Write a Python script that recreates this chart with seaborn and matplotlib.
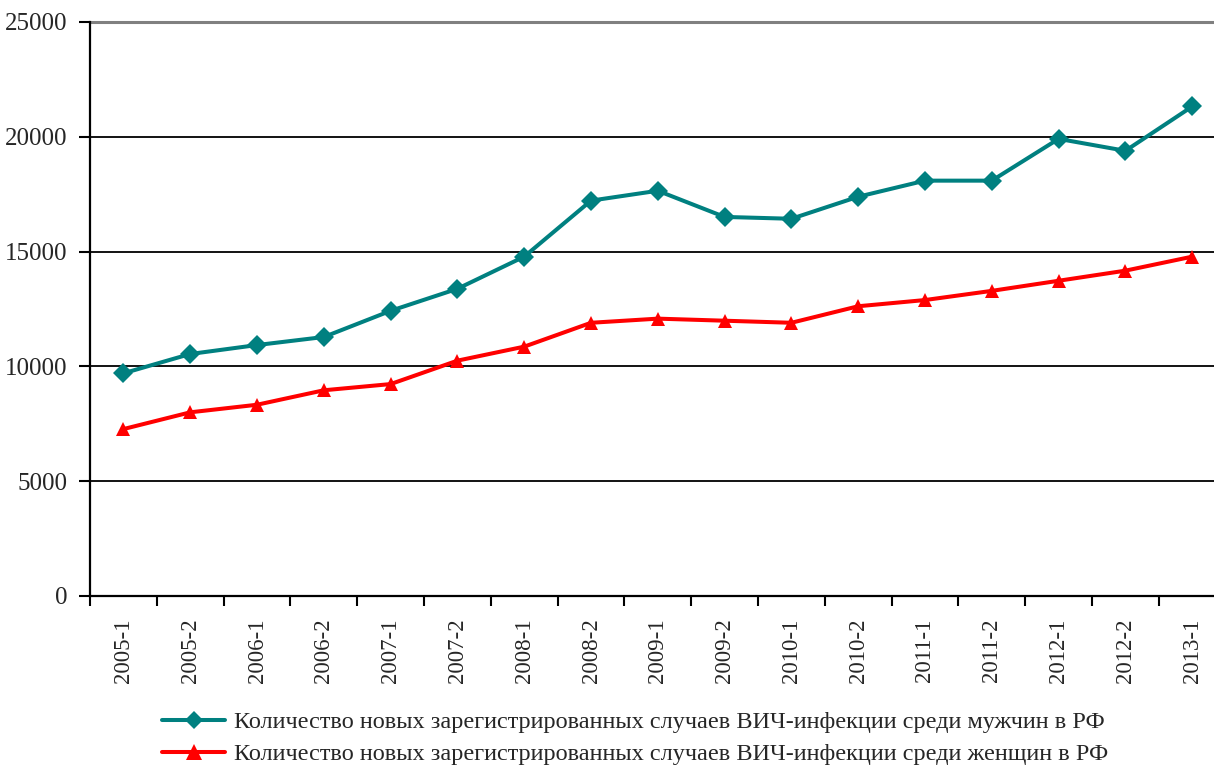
import matplotlib
matplotlib.use("Agg")
import matplotlib.pyplot as plt
import seaborn as sns
import pandas as pd
from matplotlib.ticker import FixedLocator
from matplotlib.lines import Line2D

periods = ["2005-1", "2005-2", "2006-1", "2006-2", "2007-1", "2007-2", "2008-1",
           "2008-2", "2009-1", "2009-2", "2010-1", "2010-2", "2011-1", "2011-2",
           "2012-1", "2012-2", "2013-1"]
men = [9700, 10540, 10930, 11280, 12420, 13380, 14780, 17220, 17650, 16510,
       16430, 17390, 18090, 18090, 19910, 19390, 21320]
women = [7270, 8000, 8330, 8960, 9230, 10250, 10860, 11900, 12080, 11990,
         11900, 12620, 12890, 13290, 13730, 14170, 14780]
label_men = "Количество новых зарегистрированных случаев ВИЧ-инфекции среди мужчин в РФ"
label_women = "Количество новых зарегистрированных случаев ВИЧ-инфекции среди женщин в РФ"
yticks = [0, 5000, 10000, 15000, 20000, 25000]

sns.set_theme(style="white")
plt.rcParams['font.family'] = ['Liberation Serif', 'DejaVu Serif']

df = pd.DataFrame({
    "x": list(range(len(periods))) * 2,
    "value": men + women,
    "series": [label_men] * len(men) + [label_women] * len(women),
})

fig = plt.figure(figsize=(12.14, 7.67), dpi=100)
ax = fig.add_axes([90 / 1214, (767 - 596) / 767, (1225.6 - 90) / 1214, (596 - 22) / 767])

sns.lineplot(data=df, x="x", y="value", hue="series", style="series",
             palette={label_men: "#008080", label_women: "#FF0000"},
             markers={label_men: "D", label_women: "^"},
             dashes=False, linewidth=2.9, markersize=10.5, markeredgewidth=0,
             ax=ax, legend=False)

ax.set_xlim(-0.5, len(periods) - 0.5)
ax.set_ylim(0, 25000)
ax.set_yticks(yticks)
ax.set_yticklabels([str(v) for v in yticks], fontsize=18)
for v in yticks[1:-1]:
    ax.axhline(v, color="black", linewidth=1.3, zorder=0)
ax.axhline(25000, color="#808080", linewidth=2.2, zorder=0, clip_on=False)

ax.set_xticks(range(len(periods)))
ax.set_xticklabels(periods, rotation=90, fontsize=16.5)
ax.xaxis.set_minor_locator(FixedLocator([i - 0.5 for i in range(len(periods) + 1)]))
ax.tick_params(axis="x", which="major", length=0, pad=16)
ax.tick_params(axis="x", which="minor", length=7, width=1.5, color="black", direction="out", bottom=True)
ax.tick_params(axis="y", which="major", length=8, width=1.5, color="black", direction="out", left=True, pad=8)
ax.set_xlabel("")
ax.set_ylabel("")

for s in ["top", "right"]:
    ax.spines[s].set_visible(False)
for s in ["left", "bottom"]:
    ax.spines[s].set_color("black")
    ax.spines[s].set_linewidth(1.6)

handles = [
    Line2D([], [], color="#008080", marker="D", markersize=9, linewidth=2.9, markeredgewidth=0),
    Line2D([], [], color="#FF0000", marker="^", markersize=11, linewidth=2.9, markeredgewidth=0),
]
fig.legend(handles, [label_men, label_women], loc="upper left",
           bbox_to_anchor=(162 / 1214, 1 - 711 / 767), frameon=False,
           fontsize=17.5, handlelength=2.6, handletextpad=0.35, labelspacing=0.42,
           borderaxespad=0, borderpad=0)

fig.savefig("out.png", dpi=100)
